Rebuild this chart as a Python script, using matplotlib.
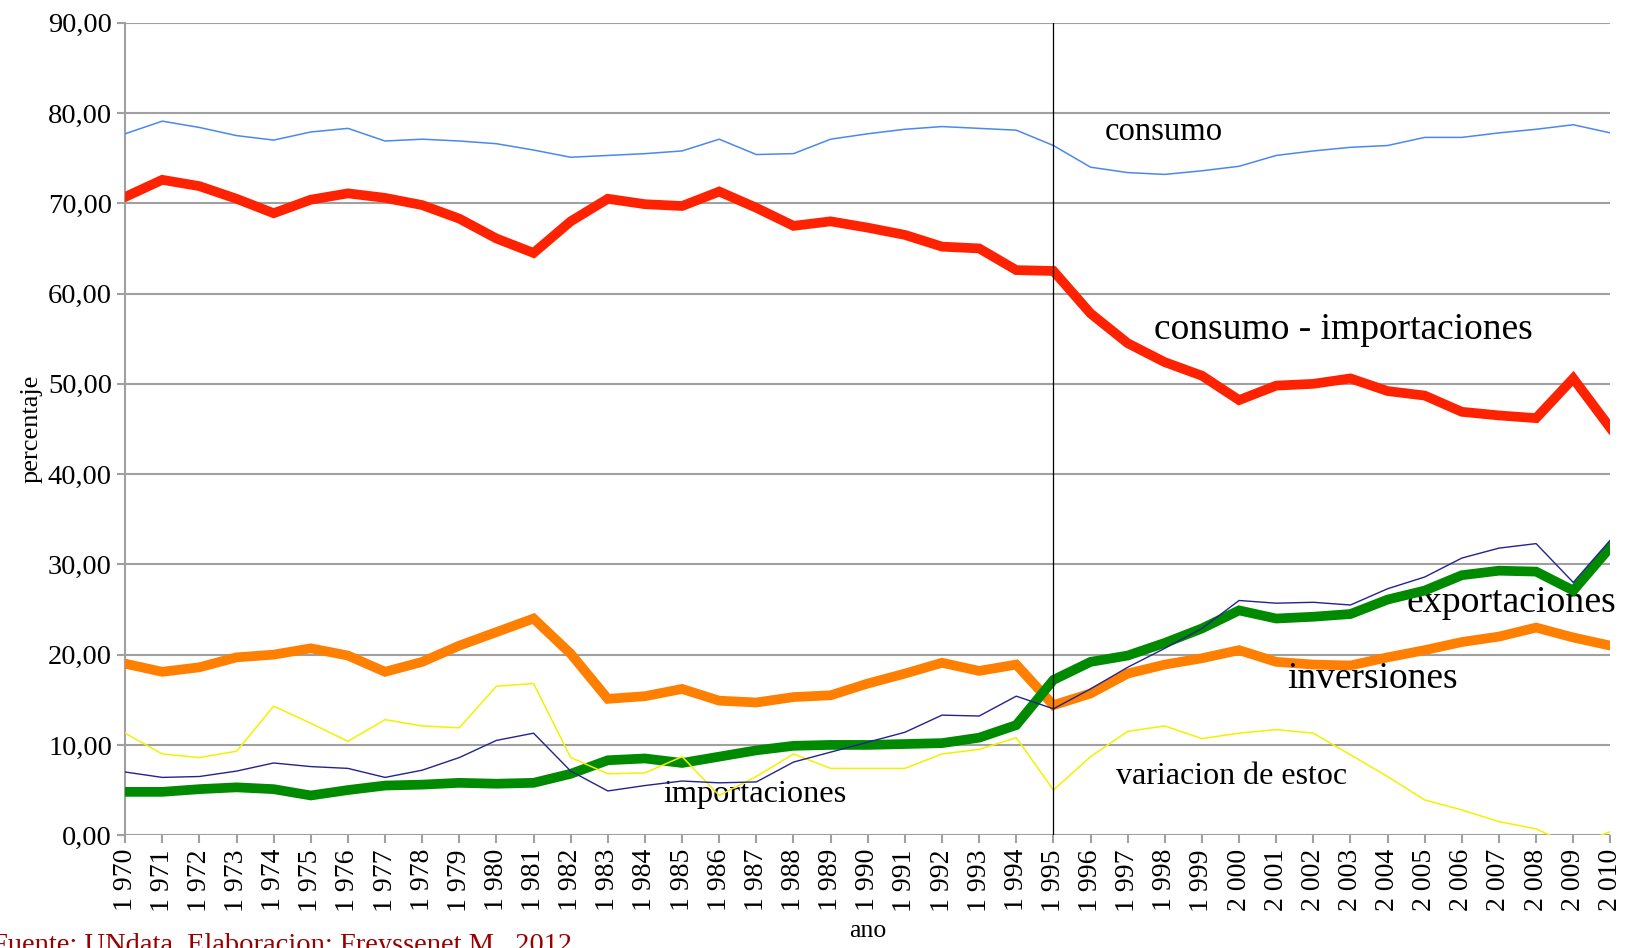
import matplotlib
matplotlib.use("Agg")
import matplotlib.pyplot as plt
from matplotlib.ticker import FuncFormatter

years = list(range(1970, 2011))

consumo = [77.7, 79.1, 78.4, 77.5, 77.0, 77.9, 78.3, 76.9, 77.1, 76.9,
           76.6, 75.9, 75.1, 75.3, 75.5, 75.8, 77.1, 75.4, 75.5, 77.1,
           77.7, 78.2, 78.5, 78.3, 78.1, 76.4, 74.0, 73.4, 73.2, 73.6,
           74.1, 75.3, 75.8, 76.2, 76.4, 77.3, 77.3, 77.8, 78.2, 78.7, 77.8]

cons_menos_imp = [70.7, 72.6, 71.9, 70.5, 68.9, 70.4, 71.1, 70.6, 69.8, 68.3,
                  66.1, 64.5, 68.0, 70.5, 69.9, 69.7, 71.3, 69.5, 67.5, 68.0,
                  67.3, 66.5, 65.2, 65.0, 62.6, 62.5, 57.8, 54.5, 52.4, 50.9,
                  48.2, 49.8, 50.0, 50.6, 49.2, 48.7, 46.9, 46.5, 46.2, 50.6, 45.1]

inversiones = [19.0, 18.1, 18.6, 19.7, 20.0, 20.7, 19.9, 18.1, 19.2, 21.0,
               22.5, 24.0, 20.1, 15.1, 15.4, 16.2, 14.9, 14.7, 15.3, 15.5,
               16.8, 17.9, 19.1, 18.2, 18.9, 14.4, 15.7, 17.9, 18.9, 19.6,
               20.5, 19.2, 18.9, 18.8, 19.7, 20.5, 21.4, 22.0, 23.0, 21.9, 21.0]

exportaciones = [4.8, 4.8, 5.1, 5.3, 5.1, 4.4, 5.0, 5.5, 5.6, 5.8,
                 5.7, 5.8, 6.8, 8.3, 8.5, 8.0, 8.7, 9.4, 9.9, 10.0,
                 10.0, 10.1, 10.2, 10.8, 12.2, 17.2, 19.2, 19.9, 21.3, 22.9,
                 24.9, 24.0, 24.2, 24.5, 26.1, 27.1, 28.8, 29.3, 29.2, 27.1, 31.9]

importaciones = [7.0, 6.4, 6.5, 7.1, 8.0, 7.6, 7.4, 6.4, 7.2, 8.6,
                 10.5, 11.3, 7.1, 4.9, 5.5, 6.0, 5.8, 5.9, 8.1, 9.2,
                 10.3, 11.4, 13.3, 13.2, 15.4, 14.0, 16.2, 18.6, 20.7, 22.9,
                 26.0, 25.7, 25.8, 25.5, 27.3, 28.6, 30.7, 31.8, 32.3, 28.0, 32.7]

var_estoc = [11.3, 9.0, 8.6, 9.3, 14.3, 12.4, 10.4, 12.8, 12.1, 11.9,
             16.5, 16.8, 8.6, 6.8, 6.9, 8.7, 4.4, 6.5, 9.0, 7.4,
             7.4, 7.4, 9.0, 9.5, 10.8, 5.0, 8.7, 11.5, 12.1, 10.7,
             11.3, 11.7, 11.3, 8.9, 6.5, 3.9, 2.8, 1.5, 0.7, -1.2, 0.4]

year_labels = ["%d %03d" % (y // 1000, y % 1000) for y in years]

plt.rcParams['font.family'] = ['Liberation Serif', 'DejaVu Serif']

fig = plt.figure(figsize=(16.25, 9.48), dpi=100)
ax = fig.add_axes([0.077, 0.119, 0.914, 0.857])

grid_c = '#a0a0a0'
ax.plot(years, cons_menos_imp, color='#ff2200', lw=7, zorder=3, solid_joinstyle='miter')
ax.plot(years, inversiones, color='#ff7f00', lw=7, zorder=3, solid_joinstyle='miter')
ax.plot(years, exportaciones, color='#008a00', lw=7, zorder=4, solid_joinstyle='miter')
ax.plot(years, var_estoc, color='#f2f200', lw=1.1, zorder=5)
ax.plot(years, importaciones, color='#23238f', lw=1.0, zorder=6)
ax.plot(years, consumo, color='#4a88f0', lw=1.1, zorder=6)

ax.axvline(1995, color='black', lw=0.9, zorder=7)

ax.set_xlim(1970, 2010)
ax.set_ylim(0, 90)
ax.set_yticks(range(0, 91, 10))
ax.yaxis.set_major_formatter(FuncFormatter(lambda v, p: ("%.2f" % v).replace('.', ',')))
ax.set_xticks(years)
ax.set_xticklabels(year_labels, rotation=90)

ax.grid(axis='y', color=grid_c, lw=1.5, zorder=1)
ax.set_axisbelow(True)
for s in ['top', 'right', 'bottom']:
    ax.spines[s].set_visible(False)
ax.spines['left'].set_color(grid_c)
ax.spines['left'].set_linewidth(1.5)
ax.tick_params(axis='both', colors=grid_c, labelcolor='black', labelsize=20.5,
               length=6, width=1.5)
ax.tick_params(axis='x', pad=4, labelsize=20)

ax.set_ylabel('percentaje', fontsize=19, labelpad=4)
ax.set_xlabel('ano', fontsize=18.5, labelpad=6)

ax.text(1996.37, 77.9, 'consumo', fontsize=23.5, va='center', ha='left')
ax.text(1997.71, 56.0, 'consumo - importaciones', fontsize=27, va='center', ha='left')
ax.text(2004.5, 25.8, 'exportaciones', fontsize=27.2, va='center', ha='left')
ax.text(2001.31, 17.3, 'inversiones', fontsize=27, va='center', ha='left')
ax.text(1996.68, 6.5, 'variacion de estoc', fontsize=23, va='center', ha='left')
ax.text(1984.5, 4.5, 'importaciones', fontsize=23.3, va='center', ha='left')

fig.text(-0.005, -0.004, 'Fuente: UNdata, Elaboracion: Freyssenet M., 2012',
         color='#990000', fontsize=20.5, ha='left', va='baseline')

fig.savefig('out.png', dpi=100)
